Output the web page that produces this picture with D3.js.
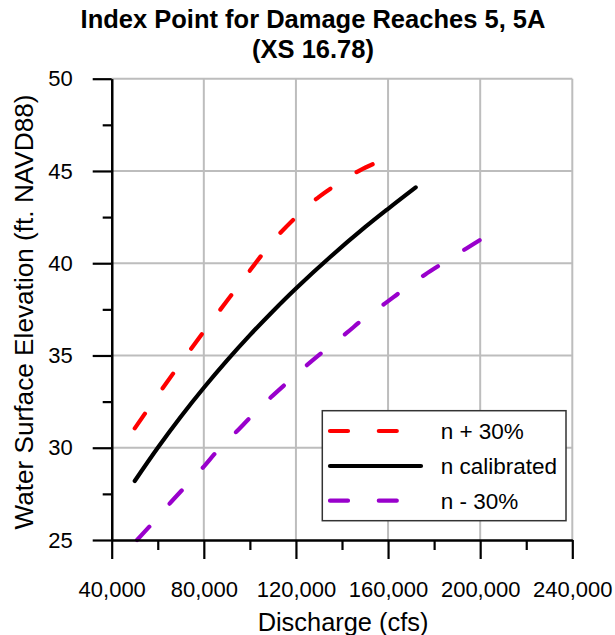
<!DOCTYPE html>
<html>
<head>
<meta charset="utf-8">
<script src="https://cdn.jsdelivr.net/npm/d3@7"></script>
<style>
  html, body { margin: 0; padding: 0; background: #fff; }
  svg { display: block; font-family: "Liberation Sans", Arial, sans-serif; }
</style>
</head>
<body>
<svg id="chart" width="615" height="635"></svg>
<script>
// ---- Data (discharge in cfs, elevation in ft NAVD88) ----
const seriesNames = ["n + 30%", "n calibrated", "n - 30%"];
const seriesColors = ["#ff0000", "#000000", "#9900cc"];

const nPlus30Q = [50000, 60000, 70000, 80000, 90000, 100000, 110000, 120000, 130000, 140000, 148000, 154000];
const nPlus30H = [31.05, 32.85, 34.6, 36.3, 37.95, 39.6, 41.2, 42.5, 43.6, 44.45, 45.05, 45.4];

const nCalQ = [50000, 60000, 70000, 80000, 90000, 100000, 110000, 120000, 135000, 150000, 160000, 172000];
const nCalH = [28.2, 30.0, 31.68, 33.25, 34.72, 36.1, 37.4, 38.63, 40.35, 41.95, 42.95, 44.11];

const nMinus30Q = [51000, 58000, 65000, 72000, 80000, 86000, 94000, 101000, 109000, 117000, 125000, 133000, 142000, 149000, 159000, 166000, 176000, 184000, 194000, 202000];
const nMinus30H = [25.0, 25.95, 26.95, 27.9, 28.98, 29.85, 30.85, 31.75, 32.72, 33.62, 34.5, 35.33, 36.22, 36.95, 37.85, 38.5, 39.38, 40.02, 40.8, 41.42];

const xMajorTicks = [40000, 80000, 120000, 160000, 200000, 240000];
const xMinorTicks = [60000, 100000, 140000, 180000, 220000];
const yMajorTicks = [25, 30, 35, 40, 45, 50];
const yMinorTicks = [27.5, 32.5, 37.5, 42.5, 47.5];

const titleLines = ["Index Point for Damage Reaches 5, 5A", "(XS 16.78)"];
const xTitle = "Discharge (cfs)";
const yTitle = "Water Surface Elevation (ft. NAVD88)";

// ---- Layout ----
const svg = d3.select("#chart");
const pLeft = 111.7, pRight = 572.3, pTop = 78.7, pBottom = 540;

const x = d3.scaleLinear().domain([40000, 240000]).range([pLeft, pRight]);
const y = d3.scaleLinear().domain([25, 50]).range([pBottom, pTop]);

// Grid
const grid = svg.append("g").attr("stroke", "#bdbdbd").attr("stroke-width", 2);
grid.selectAll("line.gx").data(xMajorTicks.slice(1)).join("line")
  .attr("x1", d => x(d)).attr("x2", d => x(d)).attr("y1", pTop).attr("y2", pBottom);
grid.selectAll("line.gy").data(yMajorTicks.slice(1)).join("line")
  .attr("y1", d => y(d)).attr("y2", d => y(d)).attr("x1", pLeft).attr("x2", pRight);

// Series
const dashPattern = "18,30.8";
const series = [
  { q: nPlus30Q, h: nPlus30H, dash: dashPattern },
  { q: nCalQ, h: nCalH, dash: null },
  { q: nMinus30Q, h: nMinus30H, dash: dashPattern }
];
const line = d3.line().x(d => x(d[0])).y(d => y(d[1])).curve(d3.curveCatmullRom.alpha(0.5));
series.forEach((s, i) => {
  const pts = s.q.map((q, j) => [q, s.h[j]]);
  svg.append("path").datum(pts)
    .attr("d", line)
    .attr("fill", "none")
    .attr("stroke", seriesColors[i])
    .attr("stroke-width", 4.2)
    .attr("stroke-linecap", "round")
    .attr("stroke-dasharray", s.dash);
});

// Axes
const fontTick = "22px";
const xAxis = d3.axisBottom(x).tickValues(xMajorTicks).tickSize(19).tickSizeOuter(0)
  .tickFormat(d3.format(",")).tickPadding(22);
const xAxisMinor = d3.axisBottom(x).tickValues(xMinorTicks).tickSize(10).tickSizeOuter(0).tickFormat("");
const yAxis = d3.axisLeft(y).tickValues(yMajorTicks).tickSize(19).tickSizeOuter(0).tickPadding(20);
const yAxisMinor = d3.axisLeft(y).tickValues(yMinorTicks).tickSize(9).tickSizeOuter(0).tickFormat("");

function styleAxis(g) {
  g.attr("font-family", null).attr("font-size", null);
  g.selectAll("path.domain").attr("stroke", "#000").attr("stroke-width", 2.2);
  g.selectAll(".tick line").attr("stroke", "#000").attr("stroke-width", 2.2);
  g.selectAll(".tick text").attr("fill", "#000").style("font-size", fontTick);
}
svg.append("g").attr("transform", `translate(0,${pBottom})`).call(xAxisMinor).call(styleAxis);
svg.append("g").attr("transform", `translate(0,${pBottom})`).call(xAxis).call(styleAxis);
svg.append("g").attr("transform", `translate(${pLeft},0)`).call(yAxisMinor).call(styleAxis);
svg.append("g").attr("transform", `translate(${pLeft},0)`).call(yAxis).call(styleAxis);

// Titles
svg.append("g").selectAll("text").data(titleLines).join("text")
  .attr("x", 313).attr("y", (d, i) => 27.5 + i * 30)
  .attr("text-anchor", "middle")
  .style("font-size", "25.5px").style("font-weight", "bold")
  .text(d => d);

svg.append("text").attr("x", 343).attr("y", 630.5)
  .attr("text-anchor", "middle").style("font-size", "25.4px").text(xTitle);

svg.append("text")
  .attr("transform", `translate(33.3,312) rotate(-90)`)
  .attr("text-anchor", "middle").style("font-size", "26.2px").text(yTitle);

// Legend
const lg = svg.append("g");
lg.append("rect").attr("x", 322.3).attr("y", 410.7).attr("width", 243.7).attr("height", 110)
  .attr("fill", "#fff").attr("stroke", "#333").attr("stroke-width", 1.5);
const legendY = [431, 466, 500.7];
seriesNames.forEach((name, i) => {
  lg.append("line")
    .attr("x1", 330).attr("x2", 421).attr("y1", legendY[i]).attr("y2", legendY[i])
    .attr("stroke", seriesColors[i]).attr("stroke-width", 4.2)
    .attr("stroke-linecap", "round")
    .attr("stroke-dasharray", series[i].dash);
  lg.append("text").attr("x", 440.7).attr("y", legendY[i])
    .attr("dy", "0.36em").style("font-size", "22.5px").text(name);
});
</script>
</body>
</html>
